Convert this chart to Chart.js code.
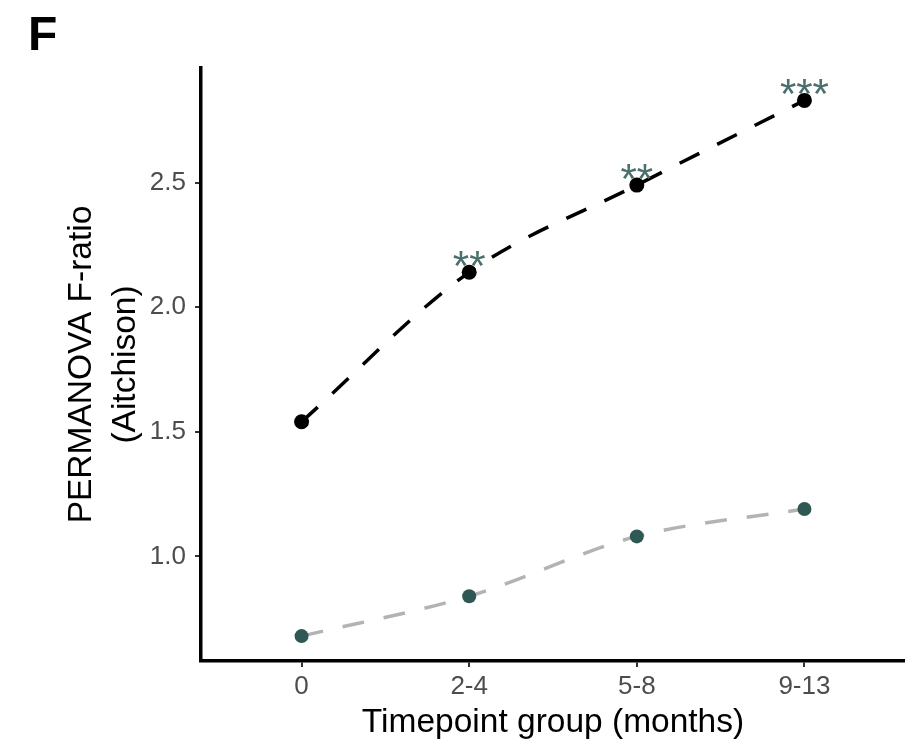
<!DOCTYPE html>
<html>
<head>
<meta charset="utf-8">
<script src="https://cdn.jsdelivr.net/npm/chart.js@4/dist/chart.umd.min.js"></script>
<style>
  html, body { margin: 0; padding: 0; background: #fff; }
  #wrap { width: 905px; height: 745px; }
</style>
</head>
<body>
<div id="wrap"><canvas id="chart" width="905" height="745"></canvas></div>
<script>
// data
const groups = ['0', '2-4', '5-8', '9-13']
const fratioMain = [1.54, 2.14, 2.49, 2.83]
const fratioCtrl = [0.68, 0.84, 1.08, 1.19]
const stars = ['', '**', '**', '***']
const yTicks = [1.0, 1.5, 2.0, 2.5]

const FONT = "'Liberation Sans', Arial, sans-serif"

// asterisks above the points + panel letter
const extraText = {
    id: 'extraText',
    afterDatasetsDraw(chart) {
        const ctx = chart.ctx
        const xs = chart.scales.x
        const ys = chart.scales.y
        ctx.save()
        ctx.fillStyle = '#4b6f6c'
        ctx.font = '42px ' + FONT
        ctx.textAlign = 'center'
        ctx.textBaseline = 'alphabetic'
        stars.forEach((s, i) => {
            if (!s) return
            ctx.fillText(s, xs.getPixelForValue(i), ys.getPixelForValue(fratioMain[i]) + 8)
        })
        ctx.fillStyle = '#000'
        ctx.font = 'bold 48px ' + FONT
        ctx.textAlign = 'left'
        ctx.fillText('F', 28, 50)
        ctx.restore()
    }
}

new Chart(document.getElementById('chart'), {
    type: 'line',
    data: {
        datasets: [{
            label: 'control',
            data: fratioCtrl.map((v, i) => ({ x: i, y: v })),
            borderColor: '#b3b3b3',
            borderWidth: 3.5,
            borderDash: [22, 20],
            pointRadius: 7,
            pointBackgroundColor: '#2f5753',
            pointBorderWidth: 0,
            cubicInterpolationMode: 'monotone'
        }, {
            label: 'main',
            data: fratioMain.map((v, i) => ({ x: i, y: v })),
            borderColor: '#000',
            borderWidth: 3.5,
            borderDash: [22, 20],
            pointRadius: 7.5,
            pointBackgroundColor: '#000',
            pointBorderWidth: 0,
            cubicInterpolationMode: 'monotone'
        }]
    },
    options: {
        responsive: false,
        animation: false,
        layout: { autoPadding: false, padding: { top: 68, right: 0, bottom: 0, left: 0 } },
        plugins: { legend: { display: false }, tooltip: { enabled: false } },
        scales: {
            x: {
                type: 'linear',
                min: -0.6,
                max: 3.6,
                afterBuildTicks: (scale) => { scale.ticks = groups.map((g, i) => ({ value: i })) },
                afterFit: (scale) => { scale.height = 84 },
                ticks: {
                    callback: (v) => groups[v],
                    color: '#4d4d4d',
                    font: { family: FONT, size: 26 },
                    padding: 4,
                    maxRotation: 0
                },
                grid: { drawOnChartArea: false, drawTicks: true, tickLength: 6, color: '#333', lineWidth: 2 },
                border: { display: true, color: '#000', width: 3.5 },
                title: {
                    display: true,
                    text: 'Timepoint group (months)',
                    color: '#000',
                    font: { family: FONT, size: 33.5 },
                    padding: { top: 0, bottom: 2 }
                }
            },
            y: {
                min: 0.58,
                max: 2.96,
                afterBuildTicks: (scale) => { scale.ticks = yTicks.map(v => ({ value: v })) },
                afterFit: (scale) => { scale.width = 201 },
                ticks: {
                    callback: (v) => v.toFixed(1),
                    color: '#4d4d4d',
                    font: { family: FONT, size: 26 },
                    padding: 9
                },
                grid: { drawOnChartArea: false, drawTicks: true, tickLength: 6, color: '#333', lineWidth: 2 },
                border: { display: true, color: '#000', width: 3.5 },
                title: {
                    display: true,
                    text: ['PERMANOVA F-ratio', '(Aitchison)'],
                    color: '#000',
                    font: { family: FONT, size: 33.5, lineHeight: 1.3 },
                    padding: { top: 60, bottom: 0 }
                }
            }
        }
    },
    plugins: [extraText]
})
</script>
</body>
</html>
